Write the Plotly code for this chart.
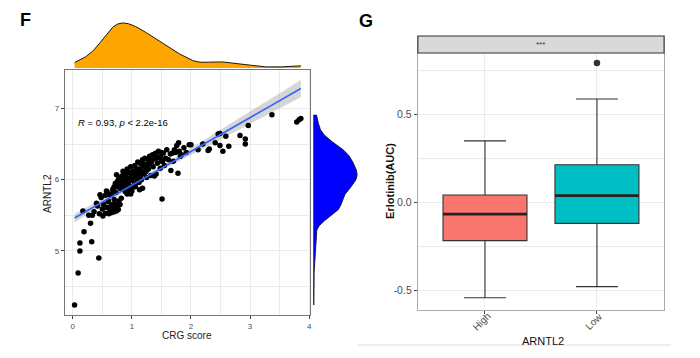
import numpy as np
import plotly.graph_objects as go

# ---------------- data: panel F (scatter) ----------------
crg_score = [
    0.03, 0.09, 0.12, 0.12, 0.32, 0.44, 0.19, 0.30, 0.17, 0.27,
    0.33, 0.40, 0.46, 0.51, 0.55, 0.57, 0.62, 0.66, 0.70, 0.74,
    0.64, 0.68, 0.72, 0.76, 0.70, 0.78, 0.82, 0.74, 0.72, 0.75,
    0.78, 0.80, 0.82, 0.85, 0.88, 0.90, 0.92, 0.95, 0.97, 1.00,
    0.85, 0.92, 0.98, 1.02, 1.05, 1.08, 1.10, 1.12, 1.15, 1.18,
    1.20, 1.22, 0.95, 1.00, 1.05, 1.10, 1.13, 1.18, 1.25, 1.28,
    1.30, 1.33, 1.35, 1.38, 1.40, 1.42, 1.45, 1.48, 1.50, 1.52,
    1.51, 1.66, 1.78, 1.68, 1.72, 1.76, 1.79, 1.80, 1.84, 1.97,
    2.00, 2.29, 2.31, 2.41, 2.46, 2.49, 2.49, 2.54, 2.59, 2.64,
    2.83, 2.92, 2.92, 2.97, 3.37, 3.79, 3.83, 3.86,
    0.60, 0.65, 0.68, 0.70, 0.73, 0.76, 0.78, 0.80, 0.83, 0.86,
    0.88, 0.90, 0.93, 0.96, 0.99, 1.02, 1.04, 1.07, 1.09, 1.11,
    1.14, 1.16, 1.19, 1.21, 1.24, 1.27, 0.84, 0.89, 0.94, 0.98,
    0.36, 0.42, 0.45, 0.48, 0.50, 0.52, 0.55, 0.58, 0.60, 0.62,
    0.63, 0.66, 0.68, 0.58, 1.22, 1.25, 1.28, 1.30, 1.32, 1.34,
    1.36, 1.39, 1.41, 1.43, 1.46, 1.48, 1.50, 1.53, 1.55, 1.57,
    1.59, 1.62, 1.65, 1.70, 1.74, 1.82, 1.88, 1.92, 2.12, 2.20,
    0.92, 1.00, 1.06, 1.12, 1.16,
    0.61, 0.67, 0.71, 0.77, 0.63, 0.80,
]
arntl2 = [
    4.24, 4.69, 5.00, 5.11, 5.13, 4.90, 5.27, 5.39, 5.56, 5.50,
    5.50, 5.67, 5.79, 5.49, 5.78, 5.84, 5.53, 5.54, 5.55, 5.56,
    5.62, 5.64, 5.66, 5.63, 5.72, 5.70, 5.74, 6.07, 5.95, 5.90,
    5.93, 5.88, 5.97, 5.92, 6.00, 6.05, 5.96, 6.02, 6.10, 6.05,
    6.12, 6.15, 6.18, 6.12, 6.20, 6.08, 6.25, 6.15, 6.22, 6.28,
    6.18, 6.30, 5.85, 5.90, 5.95, 5.98, 5.86, 5.88, 6.20, 6.27,
    6.33, 6.25, 6.35, 6.05, 6.37, 6.30, 6.40, 6.32, 6.38, 6.26,
    5.73, 6.13, 6.09, 6.37, 6.42, 6.48, 6.52, 6.40, 6.35, 6.49,
    6.49, 6.41, 6.43, 6.52, 6.64, 6.65, 6.48, 6.40, 6.61, 6.47,
    6.62, 6.57, 6.50, 6.76, 6.91, 6.81, 6.84, 6.86,
    5.70, 5.80, 5.85, 5.90, 5.82, 5.98, 6.02, 5.95, 6.05, 5.98,
    6.08, 5.92, 6.10, 5.98, 6.00, 6.02, 6.08, 6.15, 6.02, 6.10,
    6.05, 6.12, 6.08, 6.22, 6.12, 6.15, 5.87, 5.83, 5.93, 5.80,
    5.55, 5.63, 5.52, 5.75, 5.59, 5.65, 5.53, 5.61, 5.69, 5.79,
    5.57, 5.65, 5.87, 5.83, 6.10, 6.03, 6.15, 6.22, 6.06, 6.27,
    6.18, 6.30, 6.08, 6.23, 6.32, 6.16, 6.26, 6.37, 6.20, 6.30,
    6.42, 6.28, 6.36, 6.26, 6.38, 6.33, 6.45, 6.38, 6.42, 6.50,
    5.80, 5.84, 5.90, 5.96, 6.00,
    5.52, 5.57, 5.60, 5.58, 5.60, 5.65,
]
scatter_xticks = [0, 1, 2, 3, 4]
scatter_yticks = [5, 6, 7]
stat_label = "<i>R</i> = 0.93, <i>p</i> &lt; 2.2e-16"

# ---------------- data: panel G (boxplot) ----------------
box_groups = ["High", "Low"]
box_q1 = [-0.218, -0.120]
box_median = [-0.067, 0.038]
box_q3 = [0.042, 0.214]
box_lower = [-0.543, -0.480]
box_upper = [0.350, 0.588]
box_colors = ["#F8766D", "#00BFC4"]
outlier_group = [1]
outlier_value = [0.793]
box_yticks = [-0.5, 0.0, 0.5]
box_yticktext = ["-0.5", "0.0", "0.5"]
strip_label = "***"

# ---------------- helpers ----------------
W, H = 700, 358
OFF = 8  # page body offset of the figure
def px(v):
    return (v - OFF) / W
def py(v):
    return 1 - (v - OFF) / H

def bw_nrd0(v):
    v = np.asarray(v, float)
    sd = v.std(ddof=1)
    q75, q25 = np.percentile(v, [75, 25])
    lo = min(sd, (q75 - q25) / 1.34)
    return 0.9 * lo * len(v) ** -0.2

def kde(v, n=512):
    v = np.asarray(v, float)
    bw = bw_nrd0(v)
    g = np.linspace(v.min(), v.max(), n)
    d = np.exp(-0.5 * ((g[:, None] - v[None, :]) / bw) ** 2).sum(1) / (len(v) * bw * np.sqrt(2 * np.pi))
    return g, d

x = np.asarray(crg_score, float)
y = np.asarray(arntl2, float)
slope, intercept = np.polyfit(x, y, 1)
n = len(x)
resid = y - (slope * x + intercept)
s = np.sqrt((resid ** 2).sum() / (n - 2))
sxx = ((x - x.mean()) ** 2).sum()
xf = np.linspace(x.min(), x.max(), 80)
yf = slope * xf + intercept
se = s * np.sqrt(1 / n + (xf - x.mean()) ** 2 / sxx)
tq = 1.974
lo_band = yf - tq * se
hi_band = yf + tq * se

gx, dx = kde(x)
gy, dy = kde(y)

FONT = "Liberation Sans, Arial, sans-serif"
GRID = "#ebebeb"
TICKC = "#4d4d4d"

fig = go.Figure()

fig.add_trace(go.Scatter(x=np.concatenate([xf, xf[::-1]]), y=np.concatenate([hi_band, lo_band[::-1]]),
                         fill="toself", fillcolor="rgba(153,153,153,0.4)", line=dict(width=0),
                         mode="lines", hoverinfo="skip", showlegend=False, xaxis="x", yaxis="y"))
fig.add_trace(go.Scatter(x=x, y=y, mode="markers", marker=dict(color="black", size=5.5),
                         showlegend=False, xaxis="x", yaxis="y"))
fig.add_trace(go.Scatter(x=xf, y=yf, mode="lines", line=dict(color="#3366FF", width=1.6),
                         showlegend=False, xaxis="x", yaxis="y"))
fig.add_trace(go.Scatter(x=gx, y=dx, mode="lines", fill="tozeroy", fillcolor="#FFA500",
                         line=dict(color="black", width=0.9), showlegend=False, xaxis="x2", yaxis="y2"))
fig.add_trace(go.Scatter(x=dy, y=gy, mode="lines", fill="tozerox", fillcolor="#0000FF",
                         line=dict(color="#111133", width=0.9), showlegend=False, xaxis="x3", yaxis="y3"))

for i, g in enumerate(box_groups):
    fig.add_trace(go.Box(x=[i], q1=[box_q1[i]], median=[box_median[i]], q3=[box_q3[i]],
                         lowerfence=[box_lower[i]], upperfence=[box_upper[i]],
                         width=0.75, fillcolor=box_colors[i], line=dict(color="#333333", width=1.1),
                         boxpoints=False, showlegend=False, xaxis="x4", yaxis="y4", hoverinfo="skip"))
    fig.add_trace(go.Scatter(x=[i - 0.375, i + 0.375], y=[box_median[i], box_median[i]], mode="lines",
                             line=dict(color="#2b2020", width=2.6), showlegend=False,
                             xaxis="x4", yaxis="y4", hoverinfo="skip"))
fig.add_trace(go.Scatter(x=outlier_group, y=outlier_value, mode="markers",
                         marker=dict(color="#333333", size=6.5), showlegend=False, xaxis="x4", yaxis="y4"))

axis_common = dict(showgrid=True, gridcolor=GRID, gridwidth=1, zeroline=False, showline=True,
                   mirror=True, ticks="outside", ticklen=3, tickcolor="#444", tickwidth=1)

fig.update_layout(
    width=W, height=H, margin=dict(l=0, r=0, t=0, b=0),
    paper_bgcolor="white", plot_bgcolor="white",
    font=dict(family=FONT, color=TICKC),
    xaxis=dict(domain=[px(65), px(311)], range=[-0.135, 4.017], anchor="y",
               tickvals=scatter_xticks, tickfont=dict(size=8, color=TICKC),
               minor=dict(tickvals=[0.5, 1.5, 2.5, 3.5], showgrid=True, gridcolor=GRID, ticks=""),
               linecolor="#777", linewidth=1.2, **axis_common),
    yaxis=dict(domain=[py(315), py(70)], range=[4.10, 7.54], anchor="x",
               tickvals=scatter_yticks, tickfont=dict(size=8, color=TICKC),
               minor=dict(tickvals=[4.5, 5.5, 6.5], showgrid=True, gridcolor=GRID, ticks=""),
               linecolor="#777", linewidth=1.2, **axis_common),
    xaxis2=dict(domain=[px(65), px(311)], range=[-0.135, 4.017], anchor="y2", visible=False),
    yaxis2=dict(domain=[py(68), py(18)], range=[0, dx.max() * 1.11], anchor="x2", visible=False),
    xaxis3=dict(domain=[px(314), px(359)], range=[0, dy.max() * 1.02], anchor="y3", visible=False),
    yaxis3=dict(domain=[py(315), py(70)], range=[4.10, 7.54], anchor="x3", visible=False),
    xaxis4=dict(domain=[px(419), px(666)], range=[-0.6, 1.6], anchor="y4",
                tickvals=[0, 1], showticklabels=False,
                linecolor="#aaa", linewidth=1, **axis_common),
    yaxis4=dict(domain=[py(310), py(53)], range=[-0.613, 0.85], anchor="x4",
                tickvals=box_yticks, ticktext=box_yticktext, tickfont=dict(size=10.5, color=TICKC),
                minor=dict(tickvals=[-0.25, 0.25, 0.75], showgrid=True, gridcolor=GRID, ticks=""),
                linecolor="#aaa", linewidth=1, **axis_common),
)

annotations = [
    dict(text="<b>F</b>", x=px(18), y=py(20), xref="paper", yref="paper", xanchor="left", yanchor="middle",
         showarrow=False, font=dict(size=18, color="black", family=FONT)),
    dict(text="<b>G</b>", x=px(358), y=py(21), xref="paper", yref="paper", xanchor="left", yanchor="middle",
         showarrow=False, font=dict(size=18, color="black", family=FONT)),
    dict(text=stat_label, x=0.06, y=6.80, xref="x", yref="y", xanchor="left", yanchor="middle",
         showarrow=False, font=dict(size=9.5, color="black", family=FONT)),
    dict(text="CRG score", x=px(188), y=py(335), xref="paper", yref="paper", xanchor="center", yanchor="middle",
         showarrow=False, font=dict(size=10, color="#222", family=FONT)),
    dict(text="ARNTL2", x=px(47), y=py(193), xref="paper", yref="paper", xanchor="center", yanchor="middle",
         textangle=-90, showarrow=False, font=dict(size=10, color="#222", family=FONT)),
    dict(text="<b>Erlotinib(AUC)</b>", x=px(391), y=py(181), xref="paper", yref="paper", xanchor="center",
         yanchor="middle", textangle=-90, showarrow=False, font=dict(size=11, color="#111", family=FONT)),
    dict(text="ARNTL2", x=px(545), y=py(341), xref="paper", yref="paper", xanchor="center", yanchor="middle",
         showarrow=False, font=dict(size=11, color="#111", family=FONT)),
    dict(text=strip_label, x=px(542), y=py(44.5), xref="paper", yref="paper", xanchor="center", yanchor="middle",
         showarrow=False, font=dict(size=8, color="#333", family=FONT)),
]
for i, g in enumerate(box_groups):
    annotations.append(dict(text=g, x=i, xref="x4", y=py(321), yref="paper", xshift=-3.5,
                            xanchor="center", yanchor="middle", textangle=-45, showarrow=False,
                            font=dict(size=10, color=TICKC, family=FONT)))
fig.update_layout(annotations=annotations)

fig.update_layout(shapes=[
    dict(type="rect", xref="paper", yref="paper", x0=px(419), x1=px(666), y0=py(53), y1=py(36),
         fillcolor="#d9d9d9", line=dict(color="#333", width=1.2), layer="above"),
    dict(type="line", xref="paper", yref="paper", x0=px(358), x1=px(673), y0=py(345), y1=py(345),
         line=dict(color="#dddddd", width=1)),
])

fig.write_html("out.html")
